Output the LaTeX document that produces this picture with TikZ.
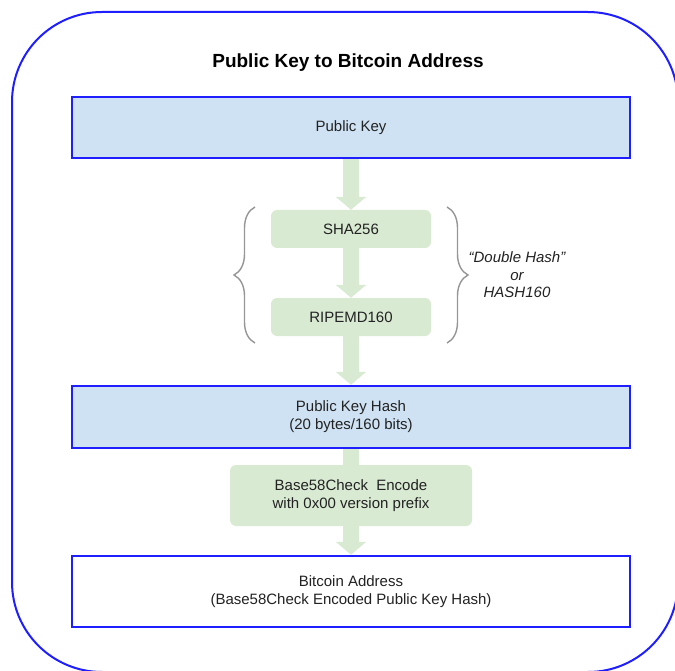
\documentclass[tikz,border=0pt]{standalone}
\usepackage{fontspec}
\setmainfont{Liberation Sans}
\usetikzlibrary{arrows.meta,decorations.pathreplacing,backgrounds}
\definecolor{bblue}{RGB}{30,30,255}
\definecolor{lblue}{RGB}{207,226,243}
\definecolor{lgreen}{RGB}{217,234,211}
\definecolor{txt}{RGB}{34,34,34}
\definecolor{brc}{RGB}{150,150,150}
\begin{document}
\begin{tikzpicture}[x=1pt,y=-1pt,
  bigbox/.style={draw=bblue,line width=2.5pt,minimum width=558pt,align=center,
    font=\fontsize{15}{18}\selectfont,text=txt,inner sep=0pt},
  greenbox/.style={fill=lgreen,rounded corners=6pt,align=center,
    font=\fontsize{15}{18}\selectfont,text=txt,inner sep=0pt},
  flow/.style={draw=lgreen,line width=16pt,-{Triangle[width=30pt,length=13pt,fill=lgreen]}},
  shaft/.style={draw=lgreen,line width=16pt},
  bracestyle/.style={draw=brc,line width=1.4pt,decorate,decoration={brace,amplitude=21pt}}]
\useasboundingbox (0,0) rectangle (675,671);
\draw[bblue,line width=2pt,rounded corners=90pt] (12,12) rectangle (678,672);
\node[font=\fontsize{19}{22}\selectfont\bfseries] (title) at (348,63) {Public Key to Bitcoin Address};
\node[bigbox,fill=lblue,minimum height=61pt] (pk) at (351,127.5) {Public Key};
\node[greenbox,minimum width=160pt,minimum height=38pt] (sha) at (351,229) {SHA256};
\node[greenbox,minimum width=160pt,minimum height=38pt] (rip) at (351,317) {RIPEMD160};
\node[bigbox,fill=lblue,minimum height=62pt] (hash) at (351,417) {Public Key Hash\\(20 bytes/160 bits)};
\node[greenbox,minimum width=242pt,minimum height=61pt] (b58) at (351,495.5) {Base58Check\ \ Encode\\with 0x00 version prefix};
\node[bigbox,fill=white,minimum height=71pt] (addr) at (351,591.5) {Bitcoin Address\\(Base58Check Encoded Public Key Hash)};
\node[align=center,font=\fontsize{15}{17.5}\selectfont\itshape,text=txt] (dh) at (517,275) {“Double Hash”\\or\\HASH160};
\coordinate (lb1) at (255,343);
\coordinate (lb2) at (255,207);
\coordinate (rb1) at (447,207);
\coordinate (rb2) at (447,343);
\draw[bracestyle] (lb1) -- (lb2);
\draw[bracestyle] (rb1) -- (rb2);
\begin{scope}[on background layer]
\draw[flow] (pk.south) -- (sha.north);
\draw[flow] (sha.south) -- (rip.north);
\draw[flow] (rip.south) -- (hash.north);
\draw[shaft] (hash.south) -- (b58.north);
\draw[flow] (b58.south) -- (addr.north);
\end{scope}
\end{tikzpicture}
\end{document}
